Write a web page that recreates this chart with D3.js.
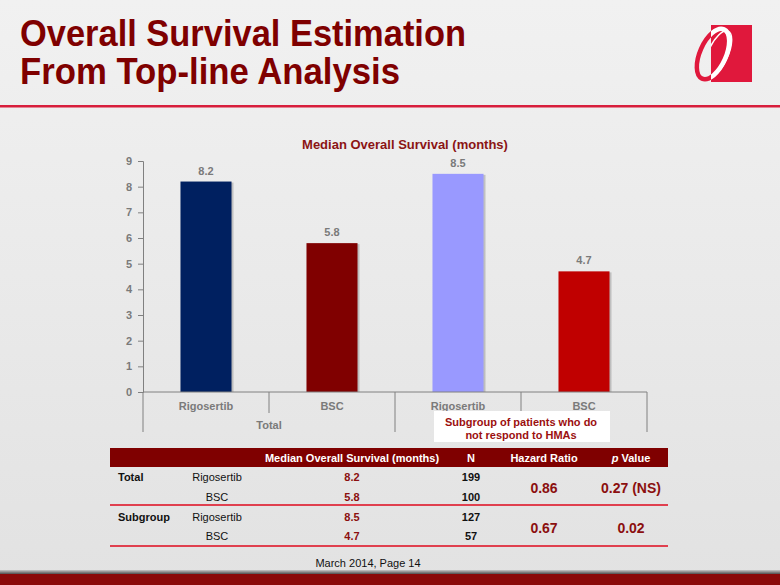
<!DOCTYPE html>
<html><head><meta charset="utf-8">
<script src="https://cdn.jsdelivr.net/npm/d3@7"></script>
<style>html,body{margin:0;padding:0;background:#ececec;}svg{display:block;}</style>
</head><body>
<script>
const categories = ["Rigosertib", "BSC", "Rigosertib", "BSC"];
const values = [8.2, 5.8, 8.5, 4.7];
const barColors = ["#002060", "#800000", "#9999ff", "#c00000"];
const groups = ["Total", "Subgroup"];
const groupLabels = ["Total", "Subgroup of patients who do|not respond to HMAs"];
const yTicks = [0, 1, 2, 3, 4, 5, 6, 7, 8, 9];
const titleLines = ["Overall Survival Estimation", "From Top-line Analysis"];
const chartTitle = "Median Overall Survival (months)";
const tableHeaders = ["", "", "Median Overall Survival (months)", "N", "Hazard Ratio", "p Value"];
const rowGroups = ["Total", "", "Subgroup", ""];
const rowArms = ["Rigosertib", "BSC", "Rigosertib", "BSC"];
const rowMedians = ["8.2", "5.8", "8.5", "4.7"];
const rowN = ["199", "100", "127", "57"];
const hazardRatios = ["0.86", "0.67"];
const pValues = ["0.27 (NS)", "0.02"];
const footer = "March 2014, Page 14";

const W = 780, H = 585;
const svg = d3.select("body").append("svg").attr("width", W).attr("height", H);
const defs = svg.append("defs");
const bg = defs.append("linearGradient").attr("id", "bg").attr("x1", 0).attr("y1", 0).attr("x2", 0).attr("y2", 1);
bg.append("stop").attr("offset", 0).attr("stop-color", "#f1f1f1");
bg.append("stop").attr("offset", 1).attr("stop-color", "#e2e2e2");
svg.append("rect").attr("width", W).attr("height", H).attr("fill", "url(#bg)");

const FONT = "'Liberation Sans', Arial, Helvetica, sans-serif";
const DARKRED = "#7f0000";

// Title
const titleWidths = [446, 380];
titleLines.forEach((t, i) => {
  svg.append("text").attr("x", 20).attr("y", 46 + i * 38)
    .attr("font-family", "'Liberation Sans Narrow', " + FONT).attr("font-weight", "bold")
    .attr("font-size", 37).attr("fill", DARKRED)
    .attr("textLength", titleWidths[i]).attr("lengthAdjust", "spacingAndGlyphs")
    .text(t);
});
// red rule
svg.append("rect").attr("x", 0).attr("y", 105).attr("width", W).attr("height", 2.5).attr("fill", "#d81e3c");

// Logo
const sq = {x: 711, y: 25, w: 41, h: 57};
defs.append("clipPath").attr("id", "inSq").append("rect").attr("x", sq.x).attr("y", sq.y).attr("width", sq.w).attr("height", sq.h);
defs.append("clipPath").attr("id", "outSq").append("path")
  .attr("clip-rule", "evenodd")
  .attr("d", `M0,0H${W}V${H}H0Z M${sq.x},${sq.y}V${sq.y+sq.h}H${sq.x+sq.w}V${sq.y}Z`);
svg.append("rect").attr("x", sq.x).attr("y", sq.y).attr("width", sq.w).attr("height", sq.h).attr("fill", "#e0183c");
const logoEl = (col, clip, sw, rx, ry, dx) => svg.append("g").attr("clip-path", `url(#${clip})`)
  .append("ellipse").attr("cx", 0).attr("cy", 0).attr("rx", rx).attr("ry", ry)
  .attr("transform", `translate(${713 + dx},54) rotate(24)`).attr("fill", "none").attr("stroke", col).attr("stroke-width", sw);
logoEl("#e0183c", "outSq", 4.5, 13, 27, 0);
logoEl("#ffffff", "inSq", 4.5, 13, 27, 0);
logoEl("#ffffff", "inSq", 1.5, 10, 25, 5);

// Chart
const margin = {left: 143, right: 647, top: 161, bottom: 392};
const x = d3.scaleBand().domain(d3.range(categories.length)).range([margin.left, margin.right]).paddingInner(0).paddingOuter(0);
const y = d3.scaleLinear().domain([0, 9]).range([margin.bottom, margin.top]);
const barW = x.bandwidth() * 0.405;

svg.append("text").attr("x", 405).attr("y", 149).attr("text-anchor", "middle")
  .attr("font-family", FONT).attr("font-weight", "bold").attr("font-size", 13).attr("fill", "#8b1414").text(chartTitle);

const gy = svg.append("g").attr("transform", `translate(${margin.left},0)`)
  .call(d3.axisLeft(y).tickValues(yTicks).tickSize(5).tickPadding(6).tickFormat(d3.format("d")));
gy.select(".domain").attr("stroke", "#808080");
gy.selectAll(".tick line").attr("stroke", "#808080");
gy.selectAll(".tick text").attr("font-family", FONT).attr("font-weight", "bold").attr("font-size", 11).attr("fill", "#7a7a7a");

// bar shadows
svg.selectAll("rect.shadow").data(values).enter().append("rect").attr("class", "shadow")
  .attr("x", (d, i) => x(i) + (x.bandwidth() - barW) / 2 + 2).attr("y", d => y(d) + 1)
  .attr("width", barW).attr("height", d => y(0) - y(d) - 1).attr("fill", "#000").attr("opacity", 0.18);
svg.selectAll("rect.bar").data(values).enter().append("rect").attr("class", "bar")
  .attr("x", (d, i) => x(i) + (x.bandwidth() - barW) / 2).attr("y", d => y(d))
  .attr("width", barW).attr("height", d => y(0) - y(d)).attr("fill", (d, i) => barColors[i]);
svg.selectAll("text.val").data(values).enter().append("text").attr("class", "val")
  .attr("x", (d, i) => x(i) + x.bandwidth() / 2).attr("y", d => y(d) - 7).attr("text-anchor", "middle")
  .attr("font-family", FONT).attr("font-weight", "bold").attr("font-size", 11).attr("fill", "#7a7a7a")
  .text(d => d.toFixed(1));

// x axis
svg.append("line").attr("x1", margin.left).attr("x2", margin.right).attr("y1", y(0)).attr("y2", y(0)).attr("stroke", "#808080");
d3.range(categories.length + 1).forEach(i => {
  const xx = i < categories.length ? x(i) : margin.right;
  svg.append("line").attr("x1", xx).attr("x2", xx).attr("y1", y(0)).attr("y2", i % 2 === 0 ? 432 : 413)
    .attr("stroke", "#808080");
});
svg.selectAll("text.cat").data(categories).enter().append("text").attr("class", "cat")
  .attr("x", (d, i) => x(i) + x.bandwidth() / 2).attr("y", 410).attr("text-anchor", "middle")
  .attr("font-family", FONT).attr("font-weight", "bold").attr("font-size", 11).attr("fill", "#7a7a7a").text(d => d);
svg.append("text").attr("x", x(1)).attr("y", 429).attr("text-anchor", "middle")
  .attr("font-family", FONT).attr("font-weight", "bold").attr("font-size", 11).attr("fill", "#7a7a7a").text(groupLabels[0]);
// subgroup box
svg.append("rect").attr("x", 434).attr("y", 411).attr("width", 176).attr("height", 31).attr("fill", "#ffffff");
groupLabels[1].split("|").forEach((t, i) => {
  svg.append("text").attr("x", x(3)).attr("y", 426 + i * 13).attr("text-anchor", "middle")
    .attr("font-family", FONT).attr("font-weight", "bold").attr("font-size", 11).attr("fill", "#9b0f0f").text(t);
});

// Table
const tX0 = 110, tX1 = 668;
svg.append("rect").attr("x", tX0).attr("y", 448).attr("width", tX1 - tX0).attr("height", 19).attr("fill", "#7f0000");
const colX = [118, 217, 352, 471, 544, 631];
tableHeaders.forEach((h, i) => {
  if (!h) return;
  const t = svg.append("text").attr("x", colX[i]).attr("y", 461.5).attr("text-anchor", "middle")
    .attr("font-family", FONT).attr("font-weight", "bold").attr("font-size", 11).attr("fill", "#ffffff");
  if (h.startsWith("p ")) {
    t.append("tspan").attr("font-style", "italic").text("p");
    t.append("tspan").text(h.slice(1));
  } else t.text(h);
});
const rowY = [481, 501, 521, 540];
rowArms.forEach((a, r) => {
  if (rowGroups[r]) svg.append("text").attr("x", colX[0]).attr("y", rowY[r]).attr("font-family", FONT)
    .attr("font-weight", "bold").attr("font-size", 11).attr("fill", "#111").text(rowGroups[r]);
  svg.append("text").attr("x", colX[1]).attr("y", rowY[r]).attr("text-anchor", "middle").attr("font-family", FONT)
    .attr("font-size", 11).attr("fill", "#111").text(a);
  svg.append("text").attr("x", colX[2]).attr("y", rowY[r]).attr("text-anchor", "middle").attr("font-family", FONT)
    .attr("font-weight", "bold").attr("font-size", 11).attr("fill", "#8b0f0f").text(rowMedians[r]);
  svg.append("text").attr("x", colX[3]).attr("y", rowY[r]).attr("text-anchor", "middle").attr("font-family", FONT)
    .attr("font-weight", "bold").attr("font-size", 11).attr("fill", "#111").text(rowN[r]);
});
hazardRatios.forEach((h, g) => {
  const yy = (rowY[g * 2] + rowY[g * 2 + 1]) / 2 + 2;
  svg.append("text").attr("x", colX[4]).attr("y", yy).attr("text-anchor", "middle").attr("font-family", FONT)
    .attr("font-weight", "bold").attr("font-size", 14).attr("fill", "#8b0f0f").text(h);
  svg.append("text").attr("x", colX[5]).attr("y", yy).attr("text-anchor", "middle").attr("font-family", FONT)
    .attr("font-weight", "bold").attr("font-size", 14).attr("fill", "#8b0f0f").text(pValues[g]);
});
[505, 546].forEach(yy => {
  svg.append("rect").attr("x", tX0).attr("y", yy - 1).attr("width", tX1 - tX0).attr("height", 2).attr("fill", "#e0404f");
});

svg.append("text").attr("x", 368).attr("y", 567).attr("text-anchor", "middle").attr("font-family", FONT)
  .attr("font-size", 11).attr("fill", "#111").text(footer);

// bottom band
const bb = defs.append("linearGradient").attr("id", "bb").attr("x1", 0).attr("y1", 0).attr("x2", 0).attr("y2", 1);
bb.append("stop").attr("offset", 0).attr("stop-color", "#c8c8c8");
bb.append("stop").attr("offset", 1).attr("stop-color", "#505050");
svg.append("rect").attr("x", 0).attr("y", 570).attr("width", W).attr("height", 4).attr("fill", "url(#bb)");
svg.append("rect").attr("x", 0).attr("y", 574).attr("width", W).attr("height", 11).attr("fill", "#8a0a0a");
</script>
</body></html>
